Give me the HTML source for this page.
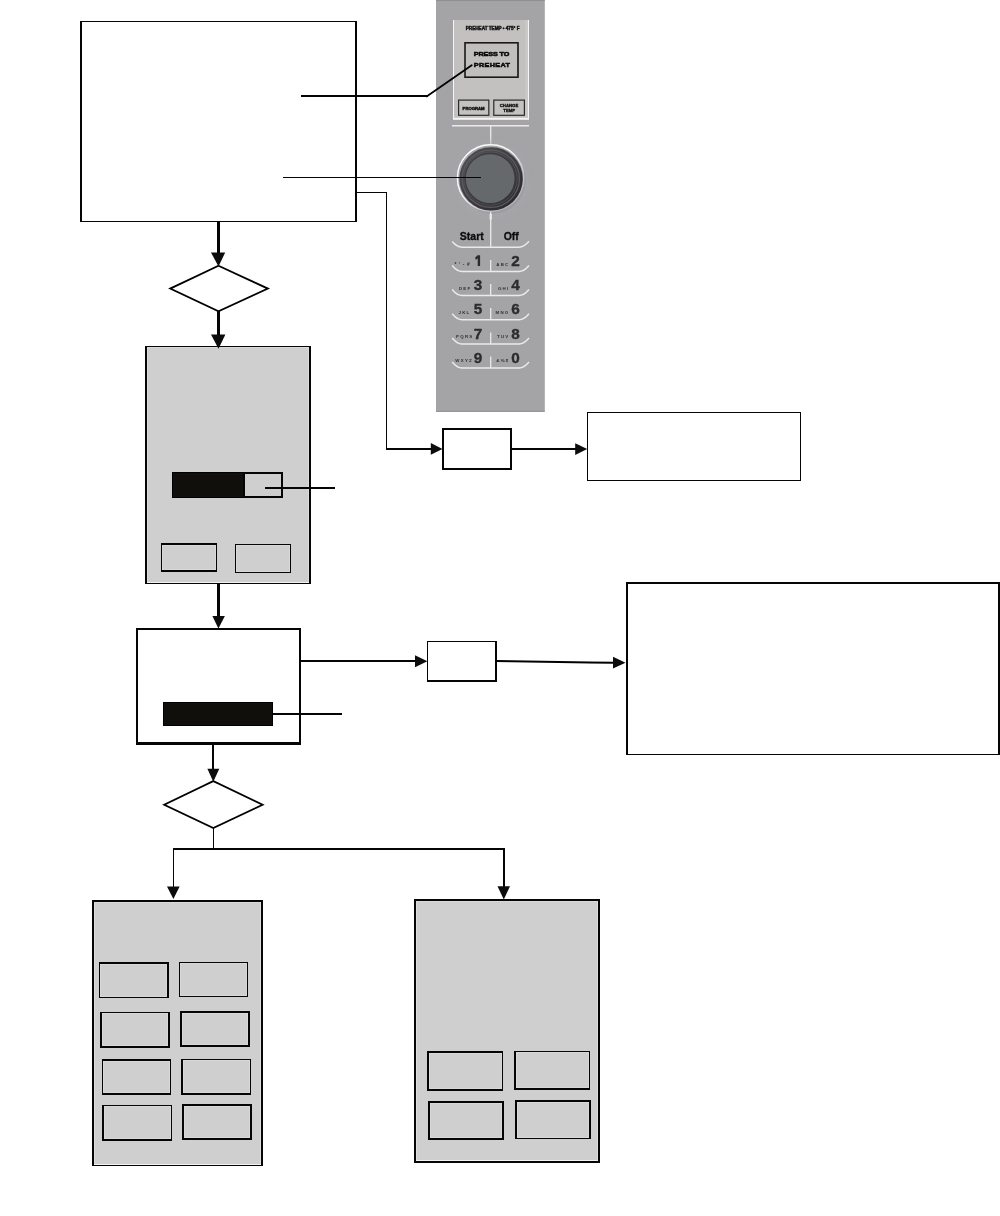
<!DOCTYPE html>
<html><head><meta charset="utf-8">
<style>
html,body{margin:0;padding:0;background:#fff;width:1000px;height:1216px;overflow:hidden}
svg{display:block;will-change:transform}
text{font-family:"Liberation Sans",sans-serif}
</style></head>
<body>
<svg width="1000" height="1216" viewBox="0 0 1000 1216">
<!-- ============ CONTROL PANEL ============ -->
<g id="panel">
  <rect x="436" y="0" width="108.8" height="411.8" fill="#a4a3a6"/>
  <rect x="436" y="0" width="108.8" height="1.1" fill="#909093"/>
  <rect x="436" y="410.8" width="108.8" height="1" fill="#919094"/>
  <!-- display area -->
  <rect x="453" y="20" width="76" height="99.8" fill="#f6f5f4"/>
  <rect x="454" y="20" width="74" height="97.8" fill="#c2c1c0"/>
  <rect x="525.5" y="20" width="2.5" height="97.8" fill="#cac9c7"/>
  <text x="492.6" y="30" font-size="4.5" font-weight="bold" fill="#111" stroke="#111" stroke-width="0.4" text-anchor="middle" textLength="53.8" lengthAdjust="spacingAndGlyphs">PREHEAT TEMP • 475° F</text>
  <rect x="465" y="42.8" width="53" height="34.4" fill="#c0bfbd" stroke="#1c1816" stroke-width="1.6"/>
  <line x1="518" y1="42.5" x2="518" y2="77.6" stroke="#333" stroke-width="1"/>
  <text transform="translate(491.6 55.9) scale(1 0.8)" x="0" y="0" font-size="7.2" font-weight="bold" fill="#0d0d0d" stroke="#0d0d0d" stroke-width="0.65" text-anchor="middle" textLength="35.6" lengthAdjust="spacing">PRESS TO</text>
  <text transform="translate(491.8 67.2) scale(1 0.8)" x="0" y="0" font-size="7.2" font-weight="bold" fill="#0d0d0d" stroke="#0d0d0d" stroke-width="0.65" text-anchor="middle" textLength="36" lengthAdjust="spacing">PREHEAT</text>
  <rect x="458.6" y="100.1" width="30.2" height="15.2" fill="#c4c3c2" stroke="#2a2a2a" stroke-width="1.2"/>
  <text x="473.6" y="109.5" font-size="2.9" font-weight="bold" fill="#111" stroke="#111" stroke-width="0.3" text-anchor="middle" textLength="22" lengthAdjust="spacingAndGlyphs">PROGRAM</text>
  <rect x="493.8" y="100.1" width="30.6" height="15.2" fill="#c4c3c2" stroke="#2a2a2a" stroke-width="1.2"/>
  <text x="509" y="106.5" font-size="3.9" font-weight="bold" fill="#111" stroke="#111" stroke-width="0.3" text-anchor="middle" textLength="18.6" lengthAdjust="spacingAndGlyphs">CHANGE</text>
  <text x="509.2" y="111.5" font-size="3.9" font-weight="bold" fill="#111" stroke="#111" stroke-width="0.3" text-anchor="middle" textLength="11.8" lengthAdjust="spacingAndGlyphs">TEMP</text>
  <!-- separator -->
  <line x1="452" y1="125.7" x2="529" y2="125.7" stroke="#ebeaea" stroke-width="1.6"/>
  <line x1="490.7" y1="125.5" x2="490.7" y2="145" stroke="#ebeaea" stroke-width="1.3"/>
  <!-- knob -->
  <defs>
    <linearGradient id="ringg" x1="0.1" y1="0.05" x2="0.9" y2="0.95">
      <stop offset="0" stop-color="#ffffff"/>
      <stop offset="0.45" stop-color="#f4f4f4"/>
      <stop offset="0.7" stop-color="#c9cacd"/>
      <stop offset="1" stop-color="#a8a9ad"/>
    </linearGradient>
    <linearGradient id="darkg" x1="0.1" y1="0.05" x2="0.9" y2="0.95">
      <stop offset="0" stop-color="#4f4e52"/>
      <stop offset="0.5" stop-color="#3e3c41"/>
      <stop offset="1" stop-color="#2a282c"/>
    </linearGradient>
    <radialGradient id="halo" cx="0.5" cy="0.5" r="0.5">
      <stop offset="0.6" stop-color="#abacaf" stop-opacity="1"/>
      <stop offset="1" stop-color="#a4a3a6" stop-opacity="0"/>
    </radialGradient>
  </defs>
  <circle cx="491.5" cy="180" r="44" fill="url(#halo)"/>
  <circle cx="492.2" cy="180.2" r="33.6" fill="#9c9da1"/>
  <circle cx="490.6" cy="178" r="33.2" fill="none" stroke="url(#ringg)" stroke-width="1.4"/>
  <circle cx="491.1" cy="178.9" r="31.7" fill="url(#darkg)"/>
  <circle cx="490.8" cy="178.7" r="28.6" fill="none" stroke="#5b5a5e" stroke-width="1.3"/>
  <circle cx="490.6" cy="178.6" r="26.6" fill="none" stroke="#555458" stroke-width="0.9"/>
  <circle cx="490.3" cy="178.6" r="25.3" fill="none" stroke="#3b3a3e" stroke-width="1"/>
  <circle cx="490.2" cy="178.6" r="24.4" fill="#66696c"/>
  <line x1="490.7" y1="212" x2="490.7" y2="247.5" stroke="#ebeaea" stroke-width="1.3"/>
  <rect x="489.6" y="214" width="2.2" height="5.5" fill="#ebeaea"/>
  <!-- Start / Off -->
  <text x="471.8" y="240.3" font-size="10.5" font-weight="bold" fill="#0d0d0d" stroke="#0d0d0d" stroke-width="0.3" text-anchor="middle">Start</text>
  <text x="511.3" y="240.3" font-size="10.5" font-weight="bold" fill="#0d0d0d" stroke="#0d0d0d" stroke-width="0.3" text-anchor="middle">Off</text>
  <g fill="none" stroke="#ebeaea" stroke-width="1.4">
    <path d="M452.2 241.5 Q457 247.2 462 247.2 L519 247.2 Q524 247.2 529 241.3"/>
    <path d="M452.2 265.5 Q457 271.5 462 271.5 L519 271.5 Q524 271.5 529 265.5"/>
    <path d="M452.2 289.5 Q457 295.5 462 295.5 L519 295.5 Q524 295.5 529 289.5"/>
    <path d="M452.2 313.7 Q457 319.7 462 319.7 L519 319.7 Q524 319.7 529 313.7"/>
    <path d="M452.2 338 Q457 344 462 344 L519 344 Q524 344 529 338"/>
    <path d="M452.2 362 Q457 368 462 368 L519 368 Q524 368 529 362"/>
  </g>
  <g stroke="#ebeaea" stroke-width="1.3">
    <line x1="490.7" y1="260" x2="490.7" y2="271.5"/>
    <line x1="490.7" y1="284" x2="490.7" y2="295.5"/>
    <line x1="490.7" y1="308" x2="490.7" y2="319.7"/>
    <line x1="490.7" y1="332.5" x2="490.7" y2="344"/>
    <line x1="490.7" y1="356.5" x2="490.7" y2="368"/>
  </g>
  <g font-size="15.3" font-weight="bold" fill="#2c2c2e" stroke="#2c2c2e" stroke-width="0.35" text-anchor="end">
    
    <text x="519.7" y="266.2">2</text>
    <text x="482.2" y="290.2">3</text>
    <text x="519.7" y="290.2">4</text>
    <text x="482.2" y="314.2">5</text>
    <text x="519.7" y="314.2">6</text>
    <text x="482.2" y="338.6">7</text>
    <text x="519.7" y="338.6">8</text>
    <text x="482.2" y="362.6">9</text>
    <text x="519.7" y="362.6">0</text>
  </g>
  <polygon points="477.5,255.3 480.1,255.3 480.1,266 477.7,266 477.7,258.6 475.6,259.8 475.1,257.8" fill="#2c2c2e"/>
  <g font-size="4.4" font-weight="bold" fill="#2f2f31" text-anchor="end" letter-spacing="1.25">
    <text x="472.2" y="265.6" letter-spacing="2.6" font-size="4.8">*'-#</text>
    <text x="509.5" y="265.6">ABC</text>
    <text x="471.5" y="289.8">DEF</text>
    <text x="509.5" y="289.8">GHI</text>
    <text x="470.5" y="314">JKL</text>
    <text x="509.5" y="314">MNO</text>
    <text x="473.5" y="338.3">PQRS</text>
    <text x="509.5" y="338.3">TUV</text>
    <text x="473" y="362.3">WXYZ</text>
    <text x="509.5" y="362.3">&amp;%$</text>
  </g>
</g>

<!-- ============ DIAGRAM ============ -->
<g>
<rect x="80" y="21" width="277" height="201" fill="#fff"/>
  <rect x="80" y="21" width="2" height="201" fill="#050505"/>
  <rect x="355" y="21" width="2" height="201" fill="#050505"/>
  <rect x="80" y="21" width="277" height="1" fill="#050505"/>
  <rect x="80" y="221" width="277" height="1" fill="#050505"/>
<rect x="301" y="95" width="127" height="2" fill="#050505"/>
<line x1="426.6" y1="96.4" x2="471.7" y2="65.2" stroke="#000" stroke-width="1.8" stroke-linecap="round"/>
<rect x="283" y="177" width="198" height="1" fill="#050505"/>
<rect x="356" y="192" width="31" height="1" fill="#050505"/>
<rect x="386" y="192" width="1" height="258" fill="#050505"/>
<rect x="386" y="448" width="45" height="2" fill="#050505"/>
<rect x="217" y="221" width="3" height="33" fill="#050505"/>
<polygon points="218.5,265.8 267.9,288.6 218.5,311.2 170.2,288.6" fill="#fff" stroke="#000" stroke-width="1.8"/>
<rect x="217" y="311" width="3" height="24" fill="#050505"/>
<rect x="145" y="346" width="166" height="238" fill="#cfcfcf"/>
  <rect x="147" y="347" width="1" height="236" fill="#dcdcdc"/>
  <rect x="147" y="347" width="162" height="1" fill="#d9d9d9"/>
  <rect x="308" y="347" width="1" height="236" fill="#dddddd"/>
  <rect x="147" y="582" width="162" height="1" fill="#f2f2f2"/>
  <rect x="145" y="346" width="2" height="238" fill="#050505"/>
  <rect x="309" y="346" width="2" height="238" fill="#050505"/>
  <rect x="145" y="346" width="166" height="1" fill="#050505"/>
  <rect x="145" y="583" width="166" height="1" fill="#050505"/>
<rect x="172" y="472" width="73" height="26" fill="#000"/><rect x="173" y="473" width="71" height="24" fill="#110f0c"/>
<rect x="243" y="472" width="40" height="26" fill="#cfcfcf"/>
  <rect x="243" y="472" width="2" height="26" fill="#050505"/>
  <rect x="281" y="472" width="2" height="26" fill="#050505"/>
  <rect x="243" y="472" width="40" height="2" fill="#050505"/>
  <rect x="243" y="496" width="40" height="2" fill="#050505"/>
<rect x="265" y="487" width="70" height="2" fill="#050505"/>
<rect x="161" y="543" width="56" height="29" fill="#cfcfcf"/>
  <rect x="162" y="545" width="1" height="25" fill="#d8d8d8"/>
  <rect x="162" y="545" width="54" height="1" fill="#d8d8d8"/>
  <rect x="215" y="545" width="1" height="25" fill="#d8d8d8"/>
  <rect x="162" y="569" width="54" height="1" fill="#d8d8d8"/>
  <rect x="161" y="543" width="1" height="29" fill="#050505"/>
  <rect x="216" y="543" width="1" height="29" fill="#050505"/>
  <rect x="161" y="543" width="56" height="2" fill="#050505"/>
  <rect x="161" y="570" width="56" height="2" fill="#050505"/>
<rect x="235" y="544" width="56" height="29" fill="#cfcfcf"/>
  <rect x="236" y="545" width="1" height="27" fill="#d8d8d8"/>
  <rect x="236" y="545" width="54" height="1" fill="#d8d8d8"/>
  <rect x="289" y="545" width="1" height="27" fill="#d8d8d8"/>
  <rect x="236" y="571" width="54" height="1" fill="#d8d8d8"/>
  <rect x="235" y="544" width="1" height="29" fill="#050505"/>
  <rect x="290" y="544" width="1" height="29" fill="#050505"/>
  <rect x="235" y="544" width="56" height="1" fill="#050505"/>
  <rect x="235" y="572" width="56" height="1" fill="#050505"/>
<rect x="217" y="583" width="3" height="34" fill="#050505"/>
<rect x="136" y="628" width="165" height="117" fill="#fff"/>
  <rect x="136" y="628" width="2" height="117" fill="#050505"/>
  <rect x="299" y="628" width="2" height="117" fill="#050505"/>
  <rect x="136" y="628" width="165" height="2" fill="#050505"/>
  <rect x="136" y="742" width="165" height="3" fill="#050505"/>
<rect x="163" y="702" width="110" height="24" fill="#000"/><rect x="164" y="703" width="108" height="22" fill="#110f0c"/>
<rect x="273" y="713" width="69" height="2" fill="#050505"/>
<rect x="300" y="660" width="116" height="2" fill="#050505"/>
<rect x="427" y="641" width="70" height="41" fill="#fff"/>
  <rect x="427" y="641" width="1" height="41" fill="#050505"/>
  <rect x="495" y="641" width="2" height="41" fill="#050505"/>
  <rect x="427" y="641" width="70" height="1" fill="#050505"/>
  <rect x="427" y="680" width="70" height="2" fill="#050505"/>
<line x1="496" y1="661" x2="614" y2="662.8" stroke="#000" stroke-width="2"/>
<rect x="626" y="582" width="374" height="173" fill="#fff"/>
  <rect x="626" y="582" width="2" height="173" fill="#050505"/>
  <rect x="998" y="582" width="2" height="173" fill="#050505"/>
  <rect x="626" y="582" width="374" height="2" fill="#050505"/>
  <rect x="626" y="754" width="374" height="1" fill="#050505"/>
<rect x="442" y="428" width="70" height="42" fill="#fff"/>
  <rect x="442" y="428" width="2" height="42" fill="#050505"/>
  <rect x="510" y="428" width="2" height="42" fill="#050505"/>
  <rect x="442" y="428" width="70" height="2" fill="#050505"/>
  <rect x="442" y="468" width="70" height="2" fill="#050505"/>
<rect x="511" y="448" width="65" height="2" fill="#050505"/>
<rect x="587" y="412" width="214" height="69" fill="#fff"/>
  <rect x="587" y="412" width="1" height="69" fill="#050505"/>
  <rect x="800" y="412" width="1" height="69" fill="#050505"/>
  <rect x="587" y="412" width="214" height="1" fill="#050505"/>
  <rect x="587" y="480" width="214" height="1" fill="#050505"/>
<rect x="212" y="744" width="2" height="26" fill="#050505"/>
<polygon points="213.3,781.1 262.6,804.7 213.3,828 164.2,804.7" fill="#fff" stroke="#000" stroke-width="1.8"/>
<rect x="213" y="828" width="1" height="21" fill="#050505"/>
<rect x="173" y="848" width="331" height="2" fill="#050505"/>
<rect x="173" y="848" width="1" height="40" fill="#050505"/>
<rect x="503" y="848" width="2" height="40" fill="#050505"/>
<rect x="92" y="900" width="171" height="266" fill="#cfcfcf"/>
  <rect x="94" y="902" width="1" height="263" fill="#dcdcdc"/>
  <rect x="94" y="902" width="167" height="1" fill="#d9d9d9"/>
  <rect x="260" y="902" width="1" height="263" fill="#dddddd"/>
  <rect x="94" y="1164" width="167" height="1" fill="#f2f2f2"/>
  <rect x="92" y="900" width="2" height="266" fill="#050505"/>
  <rect x="261" y="900" width="2" height="266" fill="#050505"/>
  <rect x="92" y="900" width="171" height="2" fill="#050505"/>
  <rect x="92" y="1165" width="171" height="1" fill="#050505"/>
<rect x="99" y="962" width="70" height="36" fill="#cfcfcf"/>
  <rect x="100" y="964" width="1" height="33" fill="#d8d8d8"/>
  <rect x="100" y="964" width="67" height="1" fill="#d8d8d8"/>
  <rect x="166" y="964" width="1" height="33" fill="#d8d8d8"/>
  <rect x="100" y="996" width="67" height="1" fill="#d8d8d8"/>
  <rect x="99" y="962" width="1" height="36" fill="#050505"/>
  <rect x="167" y="962" width="2" height="36" fill="#050505"/>
  <rect x="99" y="962" width="70" height="2" fill="#050505"/>
  <rect x="99" y="997" width="70" height="1" fill="#050505"/>
<rect x="179" y="962" width="69" height="35" fill="#cfcfcf"/>
  <rect x="180" y="963" width="1" height="33" fill="#d8d8d8"/>
  <rect x="180" y="963" width="67" height="1" fill="#d8d8d8"/>
  <rect x="246" y="963" width="1" height="33" fill="#d8d8d8"/>
  <rect x="180" y="995" width="67" height="1" fill="#d8d8d8"/>
  <rect x="179" y="962" width="1" height="35" fill="#050505"/>
  <rect x="247" y="962" width="1" height="35" fill="#050505"/>
  <rect x="179" y="962" width="69" height="1" fill="#050505"/>
  <rect x="179" y="996" width="69" height="1" fill="#050505"/>
<rect x="100" y="1012" width="70" height="36" fill="#cfcfcf"/>
  <rect x="102" y="1013" width="1" height="33" fill="#d8d8d8"/>
  <rect x="102" y="1013" width="66" height="1" fill="#d8d8d8"/>
  <rect x="167" y="1013" width="1" height="33" fill="#d8d8d8"/>
  <rect x="102" y="1045" width="66" height="1" fill="#d8d8d8"/>
  <rect x="100" y="1012" width="2" height="36" fill="#050505"/>
  <rect x="168" y="1012" width="2" height="36" fill="#050505"/>
  <rect x="100" y="1012" width="70" height="1" fill="#050505"/>
  <rect x="100" y="1046" width="70" height="2" fill="#050505"/>
<rect x="180" y="1011" width="70" height="36" fill="#cfcfcf"/>
  <rect x="182" y="1013" width="1" height="32" fill="#d8d8d8"/>
  <rect x="182" y="1013" width="66" height="1" fill="#d8d8d8"/>
  <rect x="247" y="1013" width="1" height="32" fill="#d8d8d8"/>
  <rect x="182" y="1044" width="66" height="1" fill="#d8d8d8"/>
  <rect x="180" y="1011" width="2" height="36" fill="#050505"/>
  <rect x="248" y="1011" width="2" height="36" fill="#050505"/>
  <rect x="180" y="1011" width="70" height="2" fill="#050505"/>
  <rect x="180" y="1045" width="70" height="2" fill="#050505"/>
<rect x="102" y="1059" width="69" height="36" fill="#cfcfcf"/>
  <rect x="103" y="1061" width="1" height="32" fill="#d8d8d8"/>
  <rect x="103" y="1061" width="67" height="1" fill="#d8d8d8"/>
  <rect x="169" y="1061" width="1" height="32" fill="#d8d8d8"/>
  <rect x="103" y="1092" width="67" height="1" fill="#d8d8d8"/>
  <rect x="102" y="1059" width="1" height="36" fill="#050505"/>
  <rect x="170" y="1059" width="1" height="36" fill="#050505"/>
  <rect x="102" y="1059" width="69" height="2" fill="#050505"/>
  <rect x="102" y="1093" width="69" height="2" fill="#050505"/>
<rect x="181" y="1059" width="70" height="36" fill="#cfcfcf"/>
  <rect x="183" y="1060" width="1" height="33" fill="#d8d8d8"/>
  <rect x="183" y="1060" width="67" height="1" fill="#d8d8d8"/>
  <rect x="249" y="1060" width="1" height="33" fill="#d8d8d8"/>
  <rect x="183" y="1092" width="67" height="1" fill="#d8d8d8"/>
  <rect x="181" y="1059" width="2" height="36" fill="#050505"/>
  <rect x="250" y="1059" width="1" height="36" fill="#050505"/>
  <rect x="181" y="1059" width="70" height="1" fill="#050505"/>
  <rect x="181" y="1093" width="70" height="2" fill="#050505"/>
<rect x="102" y="1105" width="70" height="36" fill="#cfcfcf"/>
  <rect x="104" y="1106" width="1" height="33" fill="#d8d8d8"/>
  <rect x="104" y="1106" width="67" height="1" fill="#d8d8d8"/>
  <rect x="170" y="1106" width="1" height="33" fill="#d8d8d8"/>
  <rect x="104" y="1138" width="67" height="1" fill="#d8d8d8"/>
  <rect x="102" y="1105" width="2" height="36" fill="#050505"/>
  <rect x="171" y="1105" width="1" height="36" fill="#050505"/>
  <rect x="102" y="1105" width="70" height="1" fill="#050505"/>
  <rect x="102" y="1139" width="70" height="2" fill="#050505"/>
<rect x="182" y="1104" width="70" height="36" fill="#cfcfcf"/>
  <rect x="184" y="1106" width="1" height="32" fill="#d8d8d8"/>
  <rect x="184" y="1106" width="66" height="1" fill="#d8d8d8"/>
  <rect x="249" y="1106" width="1" height="32" fill="#d8d8d8"/>
  <rect x="184" y="1137" width="66" height="1" fill="#d8d8d8"/>
  <rect x="182" y="1104" width="2" height="36" fill="#050505"/>
  <rect x="250" y="1104" width="2" height="36" fill="#050505"/>
  <rect x="182" y="1104" width="70" height="2" fill="#050505"/>
  <rect x="182" y="1138" width="70" height="2" fill="#050505"/>
<rect x="414" y="899" width="186" height="264" fill="#cfcfcf"/>
  <rect x="416" y="901" width="1" height="260" fill="#dcdcdc"/>
  <rect x="416" y="901" width="182" height="1" fill="#d9d9d9"/>
  <rect x="597" y="901" width="1" height="260" fill="#dddddd"/>
  <rect x="416" y="1160" width="182" height="1" fill="#f2f2f2"/>
  <rect x="414" y="899" width="2" height="264" fill="#050505"/>
  <rect x="598" y="899" width="2" height="264" fill="#050505"/>
  <rect x="414" y="899" width="186" height="2" fill="#050505"/>
  <rect x="414" y="1161" width="186" height="2" fill="#050505"/>
<rect x="427" y="1051" width="76" height="40" fill="#cfcfcf"/>
  <rect x="429" y="1053" width="1" height="36" fill="#d8d8d8"/>
  <rect x="429" y="1053" width="73" height="1" fill="#d8d8d8"/>
  <rect x="501" y="1053" width="1" height="36" fill="#d8d8d8"/>
  <rect x="429" y="1088" width="73" height="1" fill="#d8d8d8"/>
  <rect x="427" y="1051" width="2" height="40" fill="#050505"/>
  <rect x="502" y="1051" width="1" height="40" fill="#050505"/>
  <rect x="427" y="1051" width="76" height="2" fill="#050505"/>
  <rect x="427" y="1089" width="76" height="2" fill="#050505"/>
<rect x="514" y="1051" width="76" height="39" fill="#cfcfcf"/>
  <rect x="516" y="1052" width="1" height="36" fill="#d8d8d8"/>
  <rect x="516" y="1052" width="73" height="1" fill="#d8d8d8"/>
  <rect x="588" y="1052" width="1" height="36" fill="#d8d8d8"/>
  <rect x="516" y="1087" width="73" height="1" fill="#d8d8d8"/>
  <rect x="514" y="1051" width="2" height="39" fill="#050505"/>
  <rect x="589" y="1051" width="1" height="39" fill="#050505"/>
  <rect x="514" y="1051" width="76" height="1" fill="#050505"/>
  <rect x="514" y="1088" width="76" height="2" fill="#050505"/>
<rect x="428" y="1101" width="76" height="39" fill="#cfcfcf"/>
  <rect x="430" y="1103" width="1" height="35" fill="#d8d8d8"/>
  <rect x="430" y="1103" width="72" height="1" fill="#d8d8d8"/>
  <rect x="501" y="1103" width="1" height="35" fill="#d8d8d8"/>
  <rect x="430" y="1137" width="72" height="1" fill="#d8d8d8"/>
  <rect x="428" y="1101" width="2" height="39" fill="#050505"/>
  <rect x="502" y="1101" width="2" height="39" fill="#050505"/>
  <rect x="428" y="1101" width="76" height="2" fill="#050505"/>
  <rect x="428" y="1138" width="76" height="2" fill="#050505"/>
<rect x="515" y="1100" width="76" height="39" fill="#cfcfcf"/>
  <rect x="517" y="1102" width="1" height="36" fill="#d8d8d8"/>
  <rect x="517" y="1102" width="72" height="1" fill="#d8d8d8"/>
  <rect x="588" y="1102" width="1" height="36" fill="#d8d8d8"/>
  <rect x="517" y="1137" width="72" height="1" fill="#d8d8d8"/>
  <rect x="515" y="1100" width="2" height="39" fill="#050505"/>
  <rect x="589" y="1100" width="2" height="39" fill="#050505"/>
  <rect x="515" y="1100" width="76" height="2" fill="#050505"/>
  <rect x="515" y="1138" width="76" height="1" fill="#050505"/>
</g>
<!-- arrowheads -->
<g fill="#0c0c0c" stroke="none">
  <polygon points="211,252.5 225.2,252.5 218.5,266.5"/>
  <polygon points="211,334.4 225.4,334.4 218.5,348.8"/>
  <polygon points="212.4,616 224.9,616 218.4,628.5"/>
  <polygon points="207.4,768.7 219.3,768.7 213.3,781.8"/>
  <polygon points="167,886.4 179.6,886.4 173.4,899"/>
  <polygon points="497.5,886.2 510,886.2 503.8,899.5"/>
  <polygon points="430.8,443 430.8,454.8 442.5,448.9"/>
  <polygon points="575.2,443.2 575.2,455 587.2,449.1"/>
  <polygon points="415,655.2 415,667.2 427.4,661.2"/>
  <polygon points="613,656.8 613,668.6 625.5,662.8"/>
</g>

</svg>
</body></html>
